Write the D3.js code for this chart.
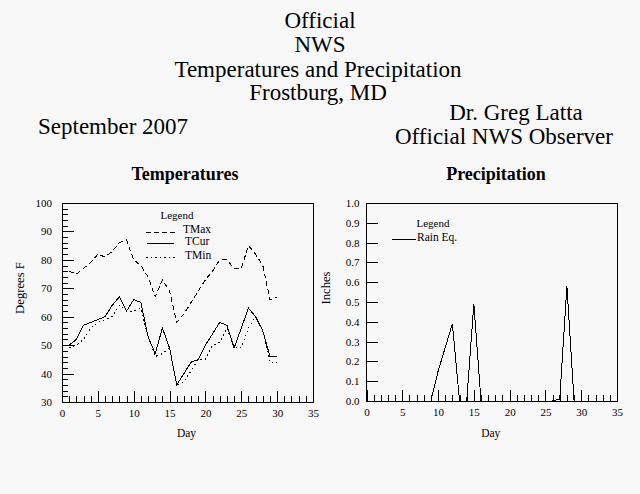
<!DOCTYPE html>
<html><head><meta charset="utf-8">
<script src="https://cdn.jsdelivr.net/npm/d3@7"></script>
<style>
html,body{margin:0;padding:0;background:#f8f8f8;}
svg{display:block;font-family:"Liberation Serif","Times New Roman",serif;}
text{fill:#000;}
</style></head><body>
<svg id="c" width="640" height="494"></svg>
<script>
const days = [1,2,3,4,5,6,7,8,9,10,11,12,13,14,15,16,17,18,19,20,21,22,23,24,25,26,27,28,29,30];
const tMax = [76,75,77,79,82,81,83,86,87,80,78,74,67,73,69,58,61,65,69,73,76,80,80,77,77,85,82,78,66,67];
const tCur = [50,52,57,58,59,60,64,67,62,66,65,53,47,56,49,36,40,44,45,50,54,58,57,49,56,63,60,55,46,46];
const tMin = [49,50,52,56,58,59,60,64,62,62,63,53,46,47,49,36,37,41,45,45,50,51,56,49,49,56,60,55,44,44];
const rainEq = [0,0,0,0,0,0,0,0,0,0.15,0.27,0.39,0,0,0.49,0,0,0,0,0,0,0,0,0,0,0,0.01,0.58,0,0];
const xTicks = [0,5,10,15,20,25,30,35];
const tempTicks = [30,40,50,60,70,80,90,100];
const rainTicks = [0,0.1,0.2,0.3,0.4,0.5,0.6,0.7,0.8,0.9,1.0];
const titleLines = ["Official","NWS","Temperatures and Precipitation","Frostburg, MD"];
const observerLines = ["Dr. Greg Latta","Official NWS Observer"];

const svg = d3.select("#c");
svg.append("rect").attr("width",640).attr("height",494).attr("fill","#f8f8f8");

const tY = [28,52,77,100];
titleLines.forEach((t,i)=>svg.append("text").attr("x",i<2?320:318).attr("y",tY[i])
  .attr("text-anchor","middle").attr("font-size",23).text(t));
svg.append("text").attr("x",516).attr("y",120).attr("text-anchor","middle").attr("font-size",23).text(observerLines[0]);
svg.append("text").attr("x",504).attr("y",144).attr("text-anchor","middle").attr("font-size",23).text(observerLines[1]);
svg.append("text").attr("x",38).attr("y",134).attr("font-size",23).text("September 2007");

function panel(cfg){
  const g = svg.append("g");
  const x = d3.scaleLinear().domain([0,35]).range([cfg.x0,cfg.x1]);
  const y = d3.scaleLinear().domain(cfg.yDom).range([cfg.y1,cfg.y0]);
  g.append("rect").attr("x",x(0)).attr("y",y(cfg.yDom[1])).attr("width",x(35)-x(0)).attr("height",y(cfg.yDom[0])-y(cfg.yDom[1]))
   .attr("fill","none").attr("stroke","#000").attr("shape-rendering","crispEdges");
  g.append("g").attr("transform",`translate(0,${y(cfg.yDom[0])})`)
    .call(d3.axisBottom(x).tickValues(d3.range(0,36,1)).tickSize(-6).tickFormat(""));
  g.append("g").attr("transform",`translate(0,${y(cfg.yDom[0])})`)
    .call(d3.axisBottom(x).tickValues(xTicks).tickSize(-11).tickPadding(7).tickFormat(d3.format("d")));
  if(cfg.yMinor){
    g.append("g").attr("transform",`translate(${x(0)},0)`)
      .call(d3.axisLeft(y).tickValues(cfg.yMinor).tickSize(-6).tickFormat(""));
  }
  g.append("g").attr("transform",`translate(${x(0)},0)`)
    .call(d3.axisLeft(y).tickValues(cfg.yTicks).tickSize(-cfg.yMajorLen).tickPadding(cfg.yPad).tickFormat(cfg.yFmt));
  g.selectAll(".domain").remove();
  g.selectAll(".tick line").attr("stroke","#000").attr("shape-rendering","crispEdges");
  g.selectAll(".tick text").attr("font-family","Liberation Serif, serif").attr("font-size",11).attr("fill","#000");
  cfg.series.forEach(s=>{
    const line = d3.line().x((d,i)=>x(days[i])).y(d=>y(d));
    g.append("path").datum(s.values).attr("d",line).attr("fill","none").attr("stroke","#000")
      .attr("stroke-width",1).attr("stroke-dasharray",s.dash||null).attr("shape-rendering","crispEdges");
  });
  g.append("text").attr("x",cfg.titleX).attr("y",180).attr("text-anchor","middle").attr("font-size",18).attr("font-weight","bold").text(cfg.title);
  g.append("text").attr("x",(x(0)+x(35))/2 - 1).attr("y",437).attr("text-anchor","middle").attr("font-size",11.5).text("Day");
  g.append("text").attr("transform",`translate(${cfg.yLabX},288) rotate(-90)`)
    .attr("text-anchor","middle").attr("font-size",12.7).text(cfg.yLabel);
  return {g,x,y};
}

const L = panel({x0:62,x1:313,y0:203,y1:402,yDom:[30,100],yTicks:tempTicks,yMinor:d3.range(30,101,2),
  yMajorLen:12,yPad:10,yFmt:d3.format("d"),title:"Temperatures",titleX:185,yLabX:23.5,yLabel:"Degrees F",
  series:[{values:tMax,dash:"5,3"},{values:tCur},{values:tMin,dash:"1.5,3"}]});
const R = panel({x0:366.5,x1:617,y0:203,y1:401,yDom:[0,1],yTicks:rainTicks,yMinor:null,
  yMajorLen:11,yPad:7,yFmt:d3.format(".1f"),title:"Precipitation",titleX:496,yLabX:329.5,yLabel:"Inches",
  series:[{values:rainEq}]});

function legend(g, cx, ty, items){
  g.append("text").attr("x",cx).attr("y",ty).attr("text-anchor","middle").attr("font-size",11).text("Legend");
  items.forEach(it=>{
    g.append("line").attr("x1",it.x1).attr("x2",it.x2).attr("y1",it.y).attr("y2",it.y)
      .attr("stroke","#000").attr("stroke-dasharray",it.dash||null).attr("shape-rendering","crispEdges");
    g.append("text").attr("x",it.tx).attr("y",it.y+1).attr("font-size",11.5).text(it.label);
  });
}
legend(L.g,177,219,[
  {x1:146,x2:177,y:232,tx:183,label:"TMax",dash:"5,3"},
  {x1:147,x2:174,y:243.5,tx:185,label:"TCur"},
  {x1:146,x2:177,y:257.5,tx:185,label:"TMin",dash:"1.5,3"}]);
legend(R.g,433,227,[{x1:392,x2:416,y:239.5,tx:417,label:"Rain Eq."}]);
</script></body></html>
